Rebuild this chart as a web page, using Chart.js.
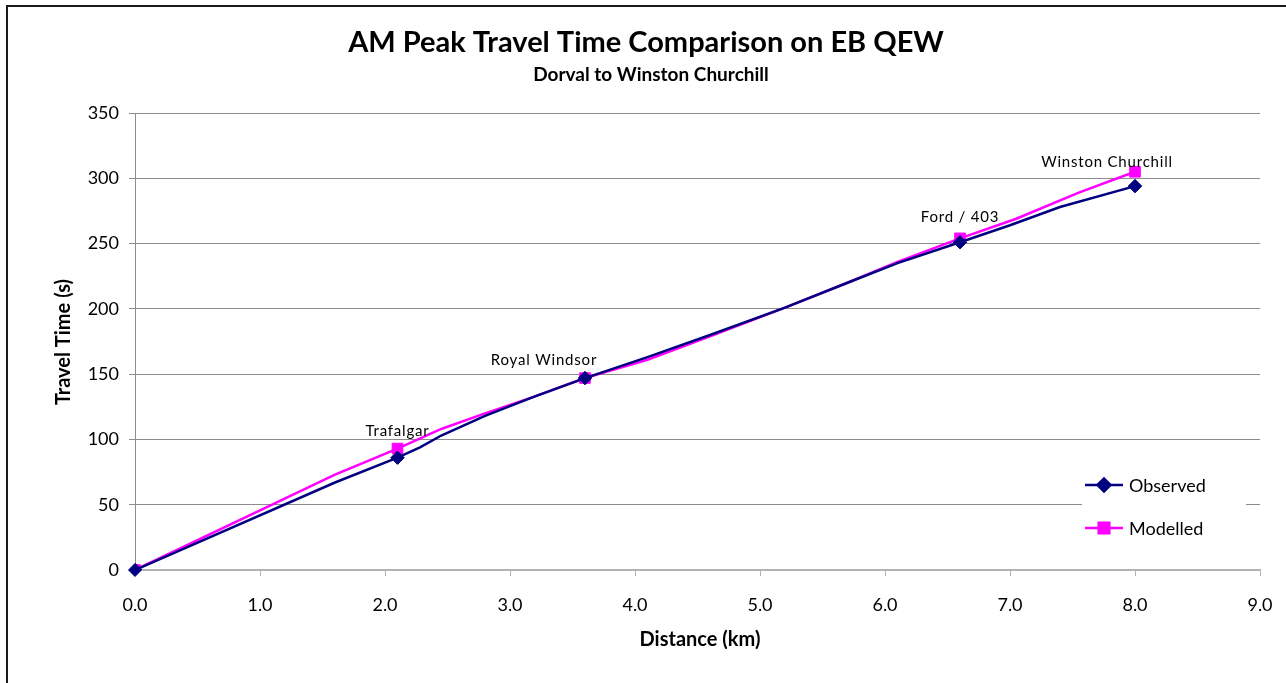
<!DOCTYPE html>
<html>
<head>
<meta charset="utf-8">
<script src="https://cdn.jsdelivr.net/npm/chart.js@4/dist/chart.umd.min.js"></script>
<style>
  html, body { margin: 0; padding: 0; background: #ffffff; }
  #wrap { position: relative; width: 1286px; height: 683px; }
</style>
</head>
<body>
<div id="wrap"><canvas id="chart" width="1286" height="683"></canvas></div>
<script>
// Distance along EB QEW (km) and cumulative travel time (s)
const distObserved = [0, 1.6, 2.1, 2.28, 2.45, 2.8, 3.2, 3.6, 4.1, 4.6, 5.2, 5.7, 6.1, 6.6, 7.0, 7.4, 8.0];
const timeObserved = [0, 67, 86, 94, 103, 118, 133, 147, 163, 180, 201, 220, 235, 251, 264, 278, 294];

const distModelled = [0, 1.6, 2.1, 2.45, 2.8, 3.2, 3.6, 4.1, 4.6, 5.2, 5.7, 6.1, 6.6, 7.05, 7.55, 8.0];
const timeModelled = [0, 73, 93, 108, 120, 133, 147, 161, 179, 201, 220, 236, 254, 269, 289, 305];

// Interchanges (marked points) and their names
const stationDist = [0, 2.1, 3.6, 6.6, 8.0];
const stationNames = ['', 'Trafalgar', 'Royal Windsor', 'Ford / 403', 'Winston Churchill'];

const seriesNames = ['Observed', 'Modelled'];
const xTicks = [0, 1, 2, 3, 4, 5, 6, 7, 8, 9];
const yTicks = [0, 50, 100, 150, 200, 250, 300, 350];

const titleText = 'AM Peak Travel Time Comparison on EB QEW';
const subtitleText = 'Dorval to Winston Churchill';
const xTitle = 'Distance (km)';
const yTitle = 'Travel Time (s)';

const FONT = 'Lato, "Liberation Sans", sans-serif';
const NAVY = '#000080';
const MAGENTA = '#ff00ff';

function toPoints(xs, ys) { return xs.map((x, i) => ({ x: x, y: ys[i] })); }
function isStation(ctx) { return ctx.raw && stationDist.includes(ctx.raw.x); }

// label placement relative to the modelled point (px)
const labelOffsets = [null, [0, -17], [-41, -18], [0, -21], [-28, -10]];

const decorPlugin = {
  id: 'decor',
  beforeDraw(chart) {
    const c = chart.ctx;
    c.save();
    c.fillStyle = '#ffffff';
    c.fillRect(0, 0, chart.width, chart.height);
    c.restore();
  },
  afterDatasetsDraw(chart) {
    const c = chart.ctx;
    // observed markers sit above the modelled line
    const meta0 = chart.getDatasetMeta(0);
    meta0.data.forEach(el => el.draw(c, chart.chartArea));

    // interchange labels
    const xs = chart.scales.x, ys = chart.scales.y;
    c.save();
    c.font = '15px ' + FONT;
    c.fillStyle = '#000000';
    c.textAlign = 'center';
    c.textBaseline = 'middle';
    if ('letterSpacing' in c) c.letterSpacing = '0.8px';
    stationDist.forEach((d, i) => {
      if (!stationNames[i]) return;
      const k = distModelled.indexOf(d);
      const px = xs.getPixelForValue(d);
      const py = ys.getPixelForValue(timeModelled[k]);
      const off = labelOffsets[i];
      c.fillText(stationNames[i], px + off[0], py + off[1]);
    });
    c.restore();
  },
  afterDraw(chart) {
    const c = chart.ctx;
    c.save();
    // outer frame
    c.strokeStyle = '#1a1a1a';
    c.lineWidth = 2;
    c.strokeRect(7, 6, 1400, 800);

    // titles
    c.fillStyle = '#000000';
    c.textAlign = 'center';
    c.textBaseline = 'middle';
    c.font = 'bold 29px ' + FONT;
    c.fillText(titleText, 646, 43);
    c.font = 'bold 19px ' + FONT;
    c.fillText(subtitleText, 651, 75);

    // axis titles
    c.font = 'bold 20px ' + FONT;
    c.fillText(xTitle, 700, 640);
    c.save();
    c.translate(64, 342);
    c.rotate(-Math.PI / 2);
    c.fillText(yTitle, 0, 0);
    c.restore();

    // legend
    const lx = 1082, lw = 164;
    c.fillStyle = '#ffffff';
    c.fillRect(lx, 468, lw, 78);
    const items = [
      { name: seriesNames[0], color: NAVY, style: 'rectRot', r: 6.5, y: 485 },
      { name: seriesNames[1], color: MAGENTA, style: 'rect', r: 7.5, y: 528 }
    ];
    items.forEach(it => {
      c.strokeStyle = it.color;
      c.lineWidth = 2.5;
      c.beginPath();
      c.moveTo(1085, it.y);
      c.lineTo(1123, it.y);
      c.stroke();
      c.fillStyle = it.color;
      Chart.helpers.drawPoint(c, { pointStyle: it.style, radius: it.r, borderWidth: 1, rotation: 0 }, 1104, it.y);
      c.fillStyle = '#000000';
      c.textAlign = 'left';
      c.font = '18px ' + FONT;
      c.fillText(it.name, 1129, it.y + 1);
    });
    c.restore();
  }
};

new Chart(document.getElementById('chart'), {
  type: 'scatter',
  data: {
    datasets: [
      {
        label: seriesNames[0],
        data: toPoints(distObserved, timeObserved),
        showLine: true,
        tension: 0,
        borderColor: NAVY,
        backgroundColor: NAVY,
        borderWidth: 2.5,
        pointStyle: 'rectRot',
        pointRadius: ctx => isStation(ctx) ? 6.5 : 0,
        pointBorderWidth: 1,
        pointHoverRadius: 0
      },
      {
        label: seriesNames[1],
        data: toPoints(distModelled, timeModelled),
        showLine: true,
        tension: 0,
        borderColor: MAGENTA,
        backgroundColor: MAGENTA,
        borderWidth: 2.5,
        pointStyle: 'rect',
        pointRadius: ctx => isStation(ctx) ? 7.5 : 0,
        pointBorderWidth: 1,
        pointHoverRadius: 0
      }
    ]
  },
  options: {
    responsive: false,
    animation: false,
    events: [],
    layout: { padding: { top: 113, right: 26, bottom: 0, left: 0 } },
    plugins: {
      legend: { display: false },
      title: { display: false },
      tooltip: { enabled: false }
    },
    scales: {
      x: {
        type: 'linear',
        min: 0,
        max: 9,
        afterBuildTicks: s => { s.ticks = xTicks.map(v => ({ value: v })); },
        afterFit: s => { s.height = 113; s.paddingLeft = 0; s.paddingRight = 0; },
        ticks: {
          callback: v => v.toFixed(1),
          font: { family: FONT, size: 18 },
          color: '#000000',
          padding: 18,
          maxRotation: 0
        },
        grid: {
          drawOnChartArea: false,
          drawTicks: true,
          tickLength: 6,
          color: '#b3b3b3',
          lineWidth: 1
        },
        border: { color: '#b3b3b3', width: 2 }
      },
      y: {
        type: 'linear',
        min: 0,
        max: 350,
        afterBuildTicks: s => { s.ticks = yTicks.map(v => ({ value: v })); },
        afterFit: s => { s.width = 135; s.paddingTop = 0; s.paddingBottom = 0; },
        ticks: {
          font: { family: FONT, size: 18 },
          color: '#000000',
          padding: 10
        },
        grid: {
          drawOnChartArea: true,
          drawTicks: true,
          tickLength: 6,
          color: '#8c8c8c',
          lineWidth: 1
        },
        border: { color: '#8c8c8c', width: 1 }
      }
    }
  },
  plugins: [decorPlugin]
});
</script>
</body>
</html>
